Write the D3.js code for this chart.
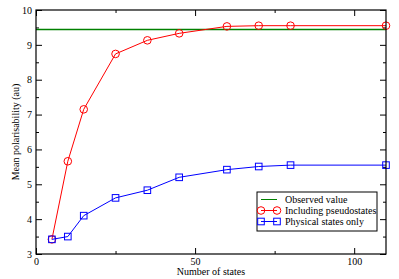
<!DOCTYPE html>
<html>
<head>
<meta charset="utf-8">
<script src="https://cdn.jsdelivr.net/npm/d3@7"></script>
<style>
  body { margin: 0; background: #fff; }
</style>
</head>
<body>
<div id="chart"></div>
<script>
// data
var states = [5, 10, 15, 25, 35, 45, 60, 70, 80, 110];
var pseudo = [3.42, 5.66, 7.15, 8.74, 9.13, 9.33, 9.53, 9.55, 9.55, 9.55];
var physical = [3.42, 3.50, 4.10, 4.61, 4.83, 5.20, 5.42, 5.51, 5.55, 5.55];
var observed = 9.44;
var xTicks = [0, 50, 100];
var yTicks = [3, 4, 5, 6, 7, 8, 9, 10];
var legendNames = ["Observed value", "Including pseudostates", "Physical states only"];

var FONT = "'Liberation Serif', 'Times New Roman', 'DejaVu Serif', serif";
var W = 399, H = 279;
var margin = {top: 10, right: 13, bottom: 25, left: 36};
var width = W - margin.left - margin.right,
    height = H - margin.top - margin.bottom;

var svg = d3.select("#chart").append("svg")
    .attr("width", W).attr("height", H);
var g = svg.append("g")
    .attr("transform", "translate(" + margin.left + "," + margin.top + ")");

var x = d3.scaleLinear().domain([0, 110]).range([0, width]);
var y = d3.scaleLinear().domain([3, 10]).range([height, 0]);

var xMinor = d3.range(25, 110, 50);
var yMinor = d3.range(3.5, 10, 1);

// ticks inside on all sides
function tickAxis(axis, vals, size, labels) {
  return axis.tickValues(vals).tickSizeInner(size).tickSizeOuter(0)
    .tickPadding(labels ? 5 : 0)
    .tickFormat(labels ? d3.format("d") : "");
}
function styleAxis(sel) {
  sel.attr("font-family", FONT).attr("font-size", 10);
  sel.select(".domain").remove();
  sel.selectAll("line").attr("stroke", "#000");
  sel.selectAll("text").attr("fill", "#000");
}

g.append("g").attr("transform", "translate(0," + height + ")")
  .call(tickAxis(d3.axisBottom(x), xTicks, -6, true)).call(styleAxis)
  .selectAll("text").attr("dy", "0").attr("y", 11);
g.append("g").attr("transform", "translate(0," + height + ")")
  .call(tickAxis(d3.axisBottom(x), xMinor, -3, false)).call(styleAxis);
g.append("g").call(tickAxis(d3.axisTop(x), xTicks, -6, false)).call(styleAxis);
g.append("g").call(tickAxis(d3.axisTop(x), xMinor, -3, false)).call(styleAxis);

g.append("g").call(tickAxis(d3.axisLeft(y), yTicks, -6, true)).call(styleAxis)
  .selectAll("text").attr("x", -4);
g.append("g").call(tickAxis(d3.axisLeft(y), yMinor, -3, false)).call(styleAxis);
g.append("g").attr("transform", "translate(" + width + ",0)")
  .call(tickAxis(d3.axisRight(y), yTicks, -6, false)).call(styleAxis);
g.append("g").attr("transform", "translate(" + width + ",0)")
  .call(tickAxis(d3.axisRight(y), yMinor, -3, false)).call(styleAxis);

// observed value line
g.append("line")
  .attr("x1", 0).attr("x2", width)
  .attr("y1", y(observed)).attr("y2", y(observed))
  .attr("stroke", "#008000").attr("stroke-width", 1.3);

var line = d3.line()
  .x(function(d) { return x(d[0]); })
  .y(function(d) { return y(d[1]); });

var redPts = states.map(function(s, i) { return [s, pseudo[i]]; });
var bluePts = states.map(function(s, i) { return [s, physical[i]]; });

g.append("path").attr("d", line(redPts))
  .attr("fill", "none").attr("stroke", "#ff0000").attr("stroke-width", 1);
g.selectAll(".circ").data(redPts).enter().append("circle")
  .attr("cx", function(d) { return x(d[0]); })
  .attr("cy", function(d) { return y(d[1]); })
  .attr("r", 3.8)
  .attr("fill", "none").attr("stroke", "#ff0000").attr("stroke-width", 1);

g.append("path").attr("d", line(bluePts))
  .attr("fill", "none").attr("stroke", "#0000ff").attr("stroke-width", 1);
g.selectAll(".sq").data(bluePts).enter().append("rect")
  .attr("x", function(d) { return x(d[0]) - 3.3; })
  .attr("y", function(d) { return y(d[1]) - 3.3; })
  .attr("width", 6.6).attr("height", 6.6)
  .attr("fill", "none").attr("stroke", "#0000ff").attr("stroke-width", 1);

// frame
g.append("rect").attr("width", width).attr("height", height)
  .attr("fill", "none").attr("stroke", "#000").attr("stroke-width", 1.2);

// axis titles
g.append("text")
  .attr("x", width / 2).attr("y", height + 21)
  .attr("text-anchor", "middle")
  .attr("font-family", FONT).attr("font-size", 10)
  .text("Number of states");
g.append("text")
  .attr("transform", "rotate(-90)")
  .attr("x", -height / 2).attr("y", -17)
  .attr("text-anchor", "middle")
  .attr("font-family", FONT).attr("font-size", 10)
  .text("Mean polarisability (au)");

// legend
var lg = g.append("g").attr("transform", "translate(" + (257 - margin.left) + "," + (192 - margin.top) + ")");
lg.append("rect").attr("width", 120).attr("height", 39)
  .attr("fill", "#fff").attr("stroke", "#000").attr("stroke-width", 1);
var legendColors = ["#008000", "#ff0000", "#0000ff"];
legendNames.forEach(function(name, i) {
  var cy = 7.5 + i * 11;
  lg.append("line").attr("x1", 4).attr("x2", 20).attr("y1", cy).attr("y2", cy)
    .attr("stroke", legendColors[i]).attr("stroke-width", 1);
  if (i === 1) {
    [4, 20].forEach(function(cx) {
      lg.append("circle").attr("cx", cx).attr("cy", cy).attr("r", 3.8)
        .attr("fill", "none").attr("stroke", legendColors[i]);
    });
  }
  if (i === 2) {
    [4, 20].forEach(function(cx) {
      lg.append("rect").attr("x", cx - 3.3).attr("y", cy - 3.3)
        .attr("width", 6.6).attr("height", 6.6)
        .attr("fill", "none").attr("stroke", legendColors[i]);
    });
  }
  lg.append("text").attr("x", 28).attr("y", cy + 3.5)
    .attr("font-family", FONT).attr("font-size", 10).text(name);
});
</script>
</body>
</html>
